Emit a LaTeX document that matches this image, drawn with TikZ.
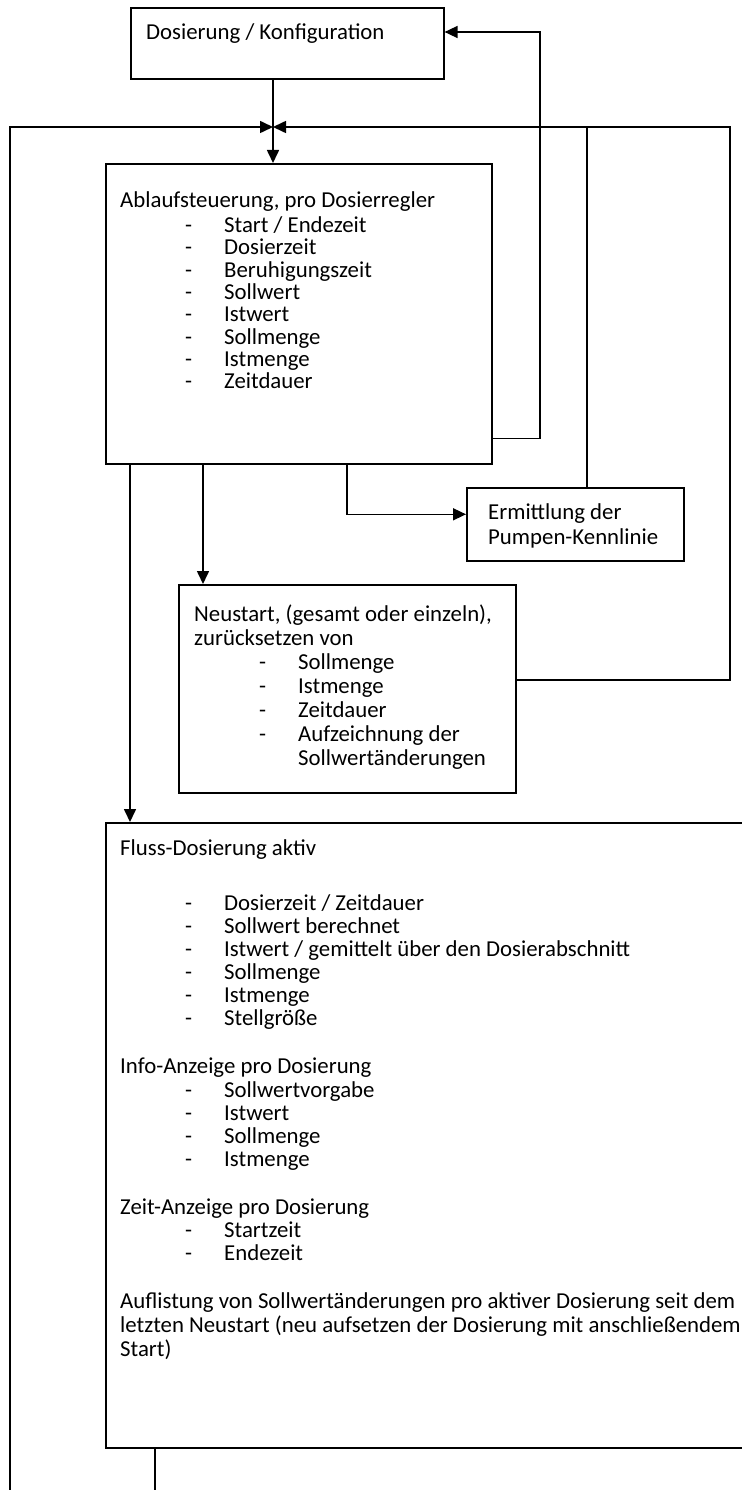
\documentclass[tikz,border=0pt]{standalone}
\usepackage{fontspec}
\setmainfont{Carlito}
\usetikzlibrary{arrows.meta,positioning,calc}
\tikzset{
  box/.style={draw=black,line width=1.6pt,anchor=north west,inner sep=0pt},
  txt/.style={anchor=north west,align=left,inner sep=0pt,font=\fontsize{22.8}{#1}\selectfont},
  txt/.default=23,
  flow/.style={-{Triangle[length=13pt,width=12pt]},line width=1.6pt},
  wire/.style={line width=1.6pt},
}
% list line: dash and text
\newcommand{\li}[1]{\hspace*{65pt}\makebox[39pt][l]{-}#1}
% fixed first-line height
\newcommand{\tstrut}{\rule{0pt}{20pt}}

\begin{document}
\begin{tikzpicture}[x=1pt,y=-1pt]
  \useasboundingbox (0,0) rectangle (741,1490);

  % boxes
  \node[box,minimum width=313pt,minimum height=71pt] (konfig) at (130,7) {};
  \node[box,minimum width=386pt,minimum height=300pt] (ablauf) at (105,163) {};
  \node[box,minimum width=217pt,minimum height=73pt] (ermittl) at (466,487) {};
  \node[box,minimum width=337pt,minimum height=208pt] (neustart) at (178,584) {};
  \node[box,minimum width=660pt,minimum height=625pt] (fluss) at (105,822) {};

  % texts
  \node[txt] (konfigtxt) at ([xshift=16pt,yshift=-12pt]konfig.north west) {\tstrut Dosierung / Konfiguration};
  \node[txt=22.3] (ablauftxt) at ([xshift=15pt,yshift=-24pt]ablauf.north west)
    {\tstrut Ablaufsteuerung, pro Dosierregler\\[3pt]
     \li{Start / Endezeit}\\ \li{Dosierzeit}\\ \li{Beruhigungszeit}\\
     \li{Sollwert}\\ \li{Istwert}\\ \li{Sollmenge}\\ \li{Istmenge}\\ \li{Zeitdauer}};
  \node[txt=25] (ermittltxt) at ([xshift=22pt,yshift=-12pt]ermittl.north west)
    {\tstrut Ermittlung der\\ Pumpen-Kennlinie};
  \node[txt=24] (neustarttxt) at ([xshift=16pt,yshift=-17pt]neustart.north west)
    {\tstrut Neustart, (gesamt oder einzeln),\\ zurücksetzen von\\
     \li{Sollmenge}\\ \li{Istmenge}\\ \li{Zeitdauer}\\ \li{Aufzeichnung der}\\
     \hspace*{104pt}Sollwertänderungen};
  \node[txt] (flusstxt) at ([xshift=15pt,yshift=-13pt]fluss.north west)
    {\tstrut Fluss-Dosierung aktiv\\[32pt]
     \li{Dosierzeit / Zeitdauer}\\ \li{Sollwert berechnet}\\
     \li{Istwert / gemittelt über den Dosierabschnitt}\\
     \li{Sollmenge}\\ \li{Istmenge}\\ \li{Stellgröße}\\[25pt]
     Info-Anzeige pro Dosierung\\[1pt]
     \li{Sollwertvorgabe}\\ \li{Istwert}\\ \li{Sollmenge}\\ \li{Istmenge}\\[25pt]
     Zeit-Anzeige pro Dosierung\\
     \li{Startzeit}\\ \li{Endezeit}\\[25pt]
     Auflistung von Sollwertänderungen pro aktiver Dosierung seit dem\\[1pt]
     letzten Neustart (neu aufsetzen der Dosierung mit anschließendem\\[1pt]
     Start)};

  % junction and free ends
  \coordinate (join) at (273,127);
  \coordinate (rc) at (730,127);
  \coordinate (ret) at (540,32);
  \coordinate (lb) at (10,1500);
  \coordinate (fb) at (155,1500);

  % connectors
  \draw[flow] (join |- konfig.south) -- (join |- ablauf.north);
  \draw[flow] (lb) |- (join);
  \draw[flow] ([yshift=9pt]neustart.east) -| (rc) -- (join);
  \draw[wire] ([xshift=121pt]ermittl.north west) |- (rc);
  \draw[flow] ([yshift=26pt]ablauf.south east) -| (ret) -- (ret -| konfig.east);
  \draw[flow] ([xshift=25pt]ablauf.south west) -- ([xshift=25pt]fluss.north west);
  \draw[flow] ([xshift=98pt]ablauf.south west) -- ([xshift=25pt]neustart.north west);
  \draw[flow] ([xshift=242pt]ablauf.south west) |- ([yshift=10pt]ermittl.west);
  \draw[wire] (fluss.south west -| fb) -- (fb);
\end{tikzpicture}
\end{document}
